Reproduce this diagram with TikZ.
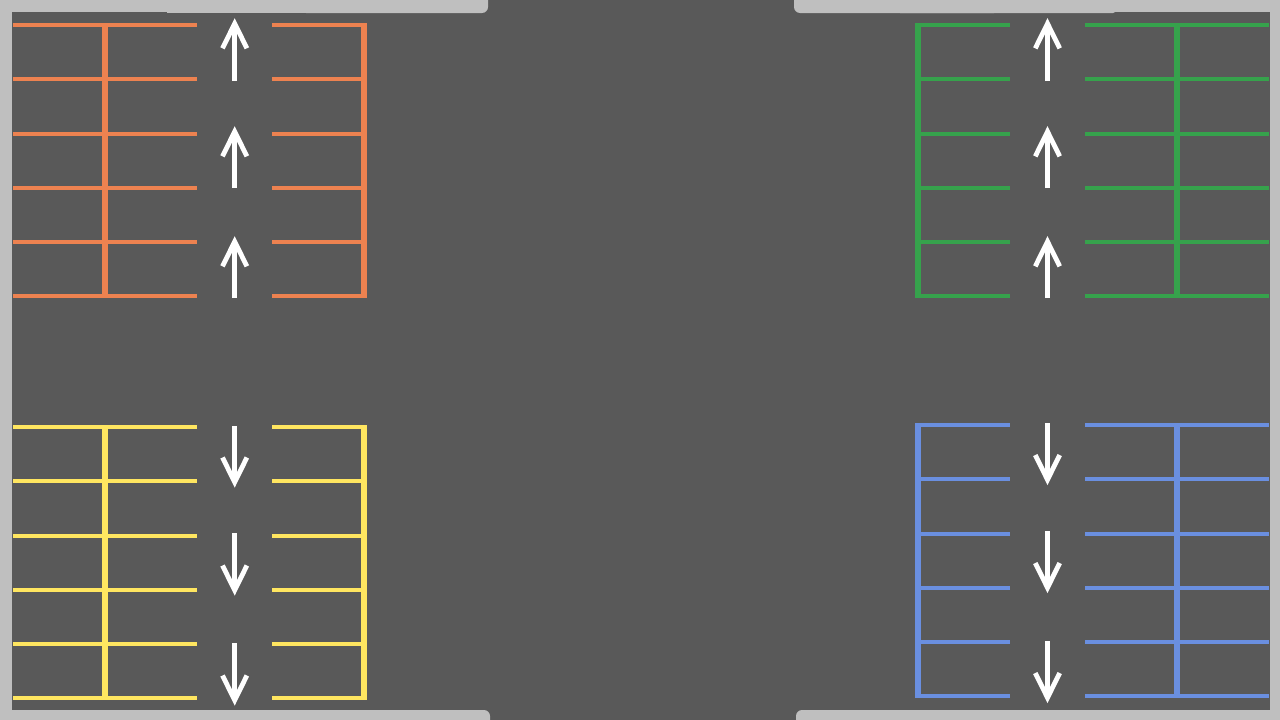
\documentclass[tikz,border=0pt]{standalone}
\usepackage{color}
\definecolor{road}{HTML}{595959}
\definecolor{ground}{HTML}{BFBFBF}
\definecolor{bayorange}{HTML}{ED8250}
\definecolor{baygreen}{HTML}{36A24C}
\definecolor{bayyellow}{HTML}{FFE660}
\definecolor{bayblue}{HTML}{6A8FE0}
\tikzset{
 bay/.style
  = {line width=4pt},
 spine/.style
  = {line width=6pt},
 lane/.style
  = {draw=white, line width=4.8pt},
}
% x, tail, tip, direction (1 up, -1 down)
\newcommand{\lanearrow}[4]{
  \draw[lane] (#1,#2) -- (#1,#3+5*#4);
  \draw[lane] (#1-12.2,#3+29.8*#4) -- (#1,#3+5.1*#4) -- (#1+12.2,#3+29.8*#4);
}

\begin{document}
\begin{tikzpicture}[x=1pt,y=-1pt]
\useasboundingbox (0,0) rectangle (1280,720);

% Ground and road
\fill[ground] (0,0) rectangle (1280,720);
\fill[road] (12,12) rectangle (1270,710);
\fill[road] (470,-1) rectangle (810,12);
\fill[road] (470,710) rectangle (815,721);
\fill[ground] (167,12) rectangle (400,13);
\fill[ground, rounded corners=6pt] (300,-10) rectangle (488,13);
\fill[ground, rounded corners=6pt] (794,-10) rectangle (1000,13);
\fill[ground] (900,12) -- (1115,12) -- (1113,13) -- (900,13) -- cycle;
\fill[ground, rounded corners=6pt] (300,710) rectangle (490,740);
\fill[ground, rounded corners=6pt] (796,710) rectangle (1000,740);

% Orange bays
\foreach \y in {25,79,134,188,242,296} {
  \draw[bay,bayorange] (13,\y) -- (197,\y);
  \draw[bay,bayorange] (272,\y) -- (364,\y);
}
\draw[spine,bayorange] (105,25) -- (105,296);
\draw[spine,bayorange] (364,23) -- (364,298);

% Green bays
\foreach \y in {25,79,134,188,242,296} {
  \draw[bay,baygreen] (918,\y) -- (1010,\y);
  \draw[bay,baygreen] (1085,\y) -- (1269,\y);
}
\draw[spine,baygreen] (918,23) -- (918,298);
\draw[spine,baygreen] (1177,25) -- (1177,296);

% Yellow bays
\foreach \y in {427,481,536,590,644,698} {
  \draw[bay,bayyellow] (13,\y) -- (197,\y);
  \draw[bay,bayyellow] (272,\y) -- (364,\y);
}
\draw[spine,bayyellow] (105,427) -- (105,698);
\draw[spine,bayyellow] (364,425) -- (364,700);

% Blue bays
\foreach \y in {425,479,534,588,642,696} {
  \draw[bay,bayblue] (918,\y) -- (1010,\y);
  \draw[bay,bayblue] (1085,\y) -- (1269,\y);
}
\draw[spine,bayblue] (918,423) -- (918,698);
\draw[spine,bayblue] (1177,425) -- (1177,696);

% Lane arrows
\foreach \a/\b in {81/18.5,188/126.5,298/236.5} {
  \lanearrow{234.7}{\a}{\b}{1}
  \lanearrow{1047.5}{\a}{\b}{1}
}
\foreach \a/\b in {426/487.3,533/595.3,643/705.3} {
  \lanearrow{234.7}{\a}{\b}{-1}
}
\foreach \a/\b in {423/484.8,531/592.8,641/702.8} {
  \lanearrow{1047.5}{\a}{\b}{-1}
}

\end{tikzpicture}
\end{document}
